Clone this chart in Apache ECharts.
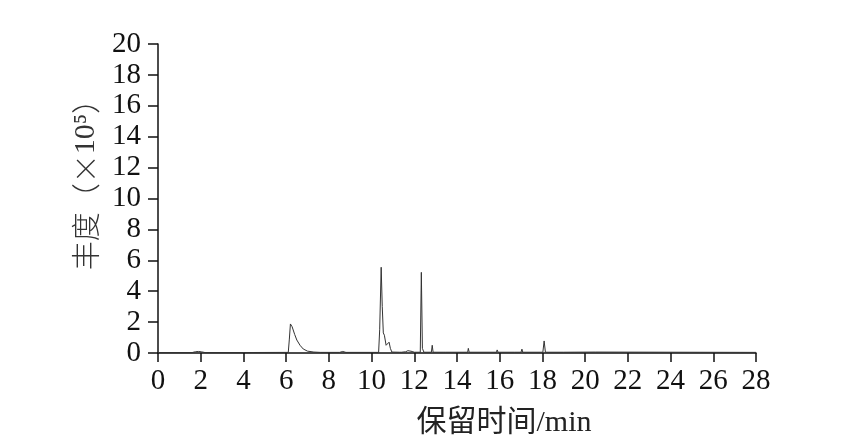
<!DOCTYPE html>
<html><head><meta charset="utf-8">
<script src="https://cdn.jsdelivr.net/npm/echarts@6/dist/echarts.min.js"></script>
<style>html,body{margin:0;padding:0;background:#fff}#c{width:853px;height:444px}</style>
</head><body><div id="c"></div>
<script>
const times = [0.0,1.6,1.75,1.9,2.05,2.2,4.0,6.1,6.15,6.2,6.28,6.4,6.5,6.65,6.8,7.0,7.3,7.6,8.5,8.65,8.8,
  10.33,10.38,10.45,10.5,10.55,10.6,10.68,10.75,10.82,10.88,10.95,11.3,11.35,11.4,11.6,11.7,11.78,11.9,12.0,
  12.28,12.33,12.38,12.45,12.8,12.84,12.88,13.35,13.4,13.45,14.5,14.53,14.57,15.85,15.88,15.92,16.7,16.73,16.76,
  17.0,17.04,17.08,18.02,18.08,18.14,19.0,20.5,28.0];
const abundance = [0.03,0.03,0.08,0.1,0.07,0.03,0.03,0.04,0.9,1.88,1.7,1.2,0.84,0.5,0.26,0.12,0.06,0.04,0.04,0.1,0.04,
  0.04,1.5,5.55,3.0,1.3,1.15,0.5,0.4,0.7,0.3,0.06,0.05,0.12,0.05,0.08,0.15,0.06,0.1,0.05,
  0.05,5.22,0.3,0.05,0.05,0.5,0.05,0.05,0.15,0.05,0.05,0.3,0.05,0.05,0.2,0.05,0.05,0.12,0.05,
  0.05,0.25,0.05,0.05,0.78,0.05,0.05,0.06,0.04];
const xName = '保留时间/min';
const yNameParts = ['丰度（×', '10⁵', '）'];
const xRange = [0, 28, 2];
const yRange = [0, 20, 2];

const serif = '"Liberation Serif", "Noto Sans CJK SC", serif';
const cjk = '"Noto Sans CJK SC", "Liberation Serif", sans-serif';
const chart = echarts.init(document.getElementById('c'));
chart.setOption({
  animation: false,
  grid: {left: 158, right: 97, top: 44, bottom: 91},
  xAxis: {
    type: 'value', min: xRange[0], max: xRange[1], interval: xRange[2],
    name: xName, nameLocation: 'middle', nameGap: 55,
    nameTextStyle: {fontFamily: serif, fontSize: 30, color: '#222', padding: [0, 0, 0, 94]},
    axisLine: {lineStyle: {color: '#111', width: 1.5}},
    axisTick: {inside: false, length: 9, lineStyle: {color: '#111', width: 1.5}},
    axisLabel: {fontFamily: serif, fontSize: 29, color: '#111', margin: 14},
    splitLine: {show: false}
  },
  yAxis: {
    type: 'value', min: yRange[0], max: yRange[1], interval: yRange[2],
    name: '{c|' + yNameParts[0] + '}{n|' + yNameParts[1] + '}{c|' + yNameParts[2] + '}',
    nameLocation: 'middle', nameGap: 54, nameRotate: 90,
    nameTextStyle: {
      color: '#222', padding: [0, 0, 0, 42],
      rich: {
        c: {fontFamily: cjk, fontSize: 29, color: '#333', fontWeight: 300},
        n: {fontFamily: serif, fontSize: 30, color: '#333'}
      }
    },
    axisLine: {show: true, lineStyle: {color: '#111', width: 1.5}},
    axisTick: {show: true, inside: false, length: 10, lineStyle: {color: '#111', width: 1.5}},
    axisLabel: {fontFamily: serif, fontSize: 29, color: '#111', margin: 17},
    splitLine: {show: false}
  },
  series: [{
    type: 'line', showSymbol: false, symbol: 'none',
    data: times.map((t, i) => [t, abundance[i]]),
    lineStyle: {color: '#333', width: 1}
  }]
});
</script></body></html>
